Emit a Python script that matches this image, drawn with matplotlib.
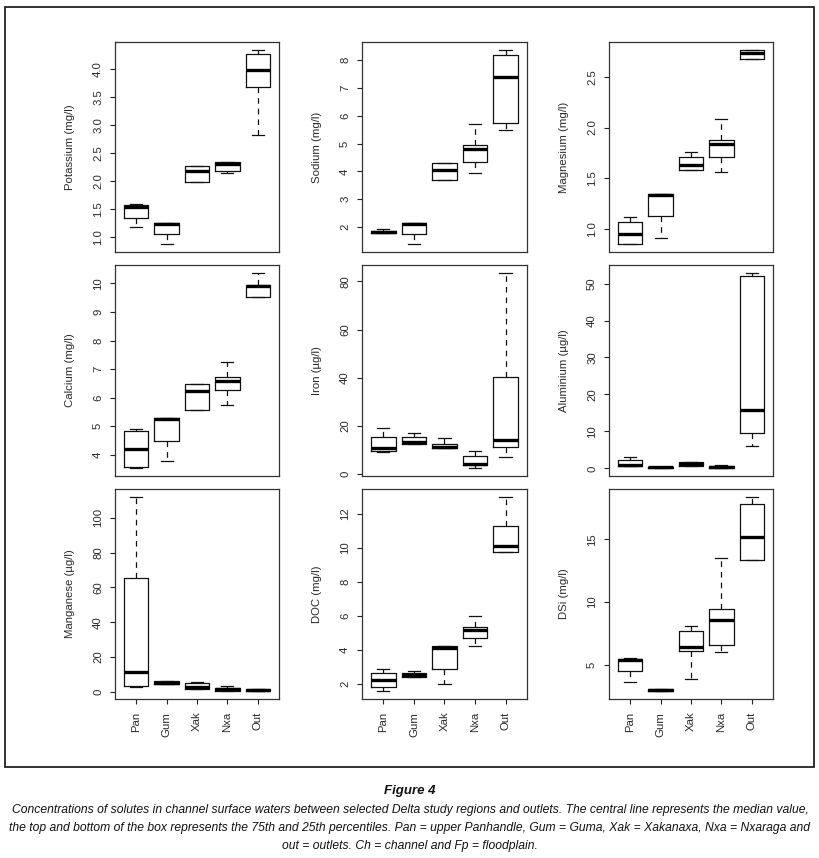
import matplotlib
matplotlib.use('Agg')
import matplotlib.pyplot as plt
from matplotlib.patches import Rectangle

regions = ['Pan', 'Gum', 'Xak', 'Nxa', 'Out']

# five-number summaries per region (lower whisker, Q1, median, Q3, upper whisker)
potassium = dict(lo=[1.19, 0.88, 1.99, 2.15, 2.83], q1=[1.34, 1.06, 1.99, 2.18, 3.68],
                 med=[1.54, 1.24, 2.19, 2.31, 3.98], q3=[1.58, 1.25, 2.27, 2.34, 4.27],
                 hi=[1.60, 1.25, 2.27, 2.35, 4.34])
sodium = dict(lo=[1.78, 1.39, 3.69, 3.93, 5.50], q1=[1.80, 1.76, 3.69, 4.35, 5.75],
              med=[1.83, 2.13, 4.04, 4.82, 7.39], q3=[1.87, 2.15, 4.31, 4.96, 8.19],
              hi=[1.92, 2.15, 4.31, 5.69, 8.36])
magnesium = dict(lo=[0.853, 0.91, 1.587, 1.564, 2.673], q1=[0.853, 1.13, 1.587, 1.714, 2.673],
                 med=[0.954, 1.34, 1.636, 1.835, 2.735], q3=[1.075, 1.35, 1.71, 1.874, 2.764],
                 hi=[1.12, 1.35, 1.763, 2.08, 2.764])
calcium = dict(lo=[3.53, 3.77, 5.58, 5.74, 9.52], q1=[3.58, 4.49, 5.58, 6.27, 9.52],
               med=[4.20, 5.24, 6.24, 6.59, 9.92], q3=[4.82, 5.27, 6.49, 6.71, 9.96],
               hi=[4.90, 5.27, 6.49, 7.25, 10.37])
iron = dict(lo=[9.0, 12.6, 10.8, 2.4, 6.9], q1=[9.4, 12.6, 10.8, 3.6, 11.3],
            med=[10.9, 13.1, 11.2, 4.2, 14.0], q3=[15.4, 15.4, 12.6, 7.6, 40.1],
            hi=[18.9, 17.1, 15.0, 9.5, 83.6])
aluminium = dict(lo=[0.55, 0.05, 0.6, 0.05, 6.0], q1=[0.55, 0.1, 0.73, 0.1, 9.6],
                 med=[0.9, 0.3, 1.2, 0.35, 15.8], q3=[2.3, 0.45, 1.7, 0.6, 52.1],
                 hi=[3.1, 0.5, 1.8, 0.8, 52.9])
manganese = dict(lo=[3.0, 4.5, 1.7, 0.6, 0.4], q1=[3.4, 4.6, 1.7, 0.8, 0.4],
                 med=[11.6, 5.1, 3.0, 1.5, 1.0], q3=[65.1, 6.3, 5.1, 2.5, 1.7],
                 hi=[112.0, 6.5, 5.7, 3.4, 1.7])
doc = dict(lo=[1.57, 2.40, 2.02, 4.25, 9.76], q1=[1.80, 2.43, 2.88, 4.67, 9.76],
           med=[2.22, 2.55, 4.10, 5.16, 10.12], q3=[2.65, 2.65, 4.20, 5.33, 11.27],
           hi=[2.88, 2.75, 4.22, 6.00, 13.0])
dsi = dict(lo=[3.59, 2.87, 3.83, 5.99, 13.35], q1=[4.49, 2.87, 6.12, 6.60, 13.35],
           med=[5.40, 2.97, 6.41, 8.57, 15.19], q3=[5.48, 3.05, 7.67, 9.45, 17.85],
           hi=[5.50, 3.05, 8.07, 13.48, 18.41])

ylabels = ['Potassium (mg/l)', 'Sodium (mg/l)', 'Magnesium (mg/l)',
           'Calcium (mg/l)', 'Iron (\u00b5g/l)', 'Aluminium (\u00b5g/l)',
           'Manganese (\u00b5g/l)', 'DOC (mg/l)', 'DSi (mg/l)']
ytick_values = [[1.0, 1.5, 2.0, 2.5, 3.0, 3.5, 4.0], [2, 3, 4, 5, 6, 7, 8], [1.0, 1.5, 2.0, 2.5],
                [4, 5, 6, 7, 8, 9, 10], [0, 20, 40, 60, 80], [0, 10, 20, 30, 40, 50],
                [0, 20, 40, 60, 80, 100], [2, 4, 6, 8, 10, 12], [5, 10, 15]]
ytick_labels = [['1.0', '1.5', '2.0', '2.5', '3.0', '3.5', '4.0'], ['2', '3', '4', '5', '6', '7', '8'],
                ['1.0', '1.5', '2.0', '2.5'], ['4', '5', '6', '7', '8', '9', '10'],
                ['0', '20', '40', '60', '80'], ['0', '10', '20', '30', '40', '50'],
                ['0', '20', '40', '60', '80', '100'], ['2', '4', '6', '8', '10', '12'],
                ['5', '10', '15']]
panels = [potassium, sodium, magnesium, calcium, iron, aluminium, manganese, doc, dsi]

caption_title = 'Figure 4'
caption_lines = [
    'Concentrations of solutes in channel surface waters between selected Delta study regions and outlets. The central line represents the median value,',
    'the top and bottom of the box represents the 75th and 25th percentiles. Pan = upper Panhandle, Gum = Guma, Xak = Xakanaxa, Nxa = Nxaraga and',
    'out = outlets. Ch = channel and Fp = floodplain.',
]

W, H = 820, 858
fig = plt.figure(figsize=(W / 100, H / 100), dpi=100)
plt.rcParams['font.family'] = ['Liberation Sans', 'DejaVu Sans']

cols = [(115, 279), (362, 527), (609, 773)]
rows = [(42, 252), (265, 476), (489, 699)]
text_col = '#2a2a2a'

for i, data in enumerate(panels):
    r, c = divmod(i, 3)
    x0, x1 = cols[c]
    y0, y1 = rows[r]
    ax = fig.add_axes([x0 / W, 1 - y1 / H, (x1 - x0) / W, (y1 - y0) / H])
    stats = []
    for k in range(len(regions)):
        stats.append(dict(med=data['med'][k], q1=data['q1'][k], q3=data['q3'][k],
                          whislo=data['lo'][k], whishi=data['hi'][k], fliers=[]))
    ax.bxp(stats, positions=list(range(1, len(regions) + 1)), widths=0.8, capwidths=0.4,
           showfliers=False, manage_ticks=False,
           boxprops=dict(color='#111111', lw=0.9),
           medianprops=dict(color='black', lw=2.4, solid_capstyle='butt'),
           whiskerprops=dict(color='#111111', lw=0.9, linestyle=(0, (4.5, 4))),
           capprops=dict(color='#111111', lw=0.9))
    lo = min(data['lo'])
    hi = max(data['hi'])
    pad = 0.04 * (hi - lo)
    ax.set_ylim(lo - pad, hi + pad)
    ax.set_xlim(0.3, len(regions) + 0.7)
    for sp in ax.spines.values():
        sp.set_linewidth(0.9)
        sp.set_color('#333333')
    ax.set_yticks(ytick_values[i])
    ax.set_yticklabels(ytick_labels[i], rotation=90, va='center', fontsize=8.2, color=text_col)
    ax.tick_params(axis='y', direction='out', length=3.4, width=0.8, pad=5.2, color='#222222')
    ax.set_ylabel(ylabels[i], fontsize=8.2, color=text_col, labelpad=13)
    if r == 2:
        ax.set_xticks(list(range(1, len(regions) + 1)))
        ax.set_xticklabels(regions, rotation=90, fontsize=8.2, color=text_col)
        ax.tick_params(axis='x', direction='out', length=3.6, width=0.8, pad=5.5, color='#222222')
    else:
        ax.set_xticks([])

# outer frame
fig.add_artist(Rectangle((5 / W, 1 - 767 / H), (814 - 5) / W, (767 - 7) / H,
                         transform=fig.transFigure, fill=False, lw=1.3, edgecolor='#222222'))

cap_font = ['Liberation Sans', 'DejaVu Sans']
fig.text(0.5, 1 - 791 / H, caption_title, ha='center', va='center', fontsize=9.5,
         fontweight='bold', fontstyle='italic', family=cap_font, color='#111111')
for j, line in enumerate(caption_lines):
    fig.text(0.5, 1 - (810 + 18 * j) / H, line, ha='center', va='center', fontsize=8.75,
             fontstyle='italic', family=cap_font, color='#111111')

fig.savefig('out.png', dpi=100)
